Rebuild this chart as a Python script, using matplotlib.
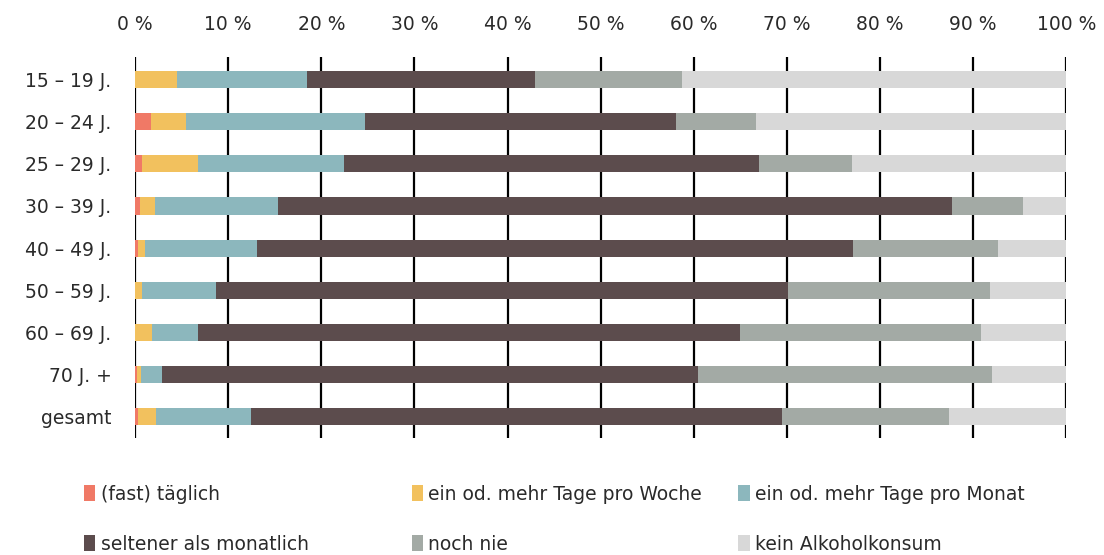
import matplotlib.pyplot as plt
import numpy as np

plt.rcParams['font.family'] = ['DejaVu Sans']

# age groups (top to bottom)
groups = ['15 – 19 J.', '20 – 24 J.', '25 – 29 J.', '30 – 39 J.', '40 – 49 J.',
          '50 – 59 J.', '60 – 69 J.', '70 J. +', 'gesamt']

# shares in percent, one list per answer
taeglich = [0.0, 1.7, 0.8, 0.5, 0.3, 0.0, 0.0, 0.2, 0.3]
woche = [4.5, 3.8, 6.0, 1.65, 0.8, 0.8, 1.8, 0.4, 2.0]
monat = [14.0, 19.2, 15.6, 13.25, 12.0, 7.9, 5.0, 2.3, 10.1]
seltener = [24.4, 33.4, 44.6, 72.3, 64.0, 61.4, 58.2, 57.5, 57.1]
noch_nie = [15.8, 8.6, 10.0, 7.6, 15.6, 21.7, 25.8, 31.6, 17.9]
kein = [41.3, 33.3, 23.0, 4.7, 7.3, 8.2, 9.2, 8.0, 12.6]

labels = ['(fast) täglich', 'ein od. mehr Tage pro Woche', 'ein od. mehr Tage pro Monat',
          'seltener als monatlich', 'noch nie', 'kein Alkoholkonsum']
colors = ['#F07966', '#F2C15E', '#8CB7BD', '#5C4C4D', '#A3AAA5', '#D8D8D8']
series = [taeglich, woche, monat, seltener, noch_nie, kein]

fig = plt.figure(figsize=(11.04, 5.55), dpi=100)
ax = fig.add_axes([0.1223, 0.211, 0.8436, 0.686])

y = np.arange(len(groups))
left = np.zeros(len(groups))
bars = []
for vals, col, lab in zip(series, colors, labels):
    b = ax.barh(y, vals, left=left, height=0.41, color=col, label=lab, zorder=3)
    bars.append(b)
    left += np.array(vals)

for v in range(0, 101, 10):
    ax.axvline(v, color='black', lw=1.6, zorder=2)

ax.set_xlim(0, 100)
ax.set_ylim(8.5, -0.53)
ax.set_xticks(range(0, 101, 10))
ax.set_xticklabels([f'{v} %' for v in range(0, 101, 10)])
ax.xaxis.tick_top()
ax.set_yticks(y)
ax.set_yticklabels(groups)
ax.tick_params(axis='x', length=0, pad=16.5, labelsize=13.5, colors='#2a2a2a')
ax.tick_params(axis='y', length=0, pad=17, labelsize=13.5, colors='#2a2a2a')
for s in ax.spines.values():
    s.set_visible(False)

# legend in three fixed columns
xs = [0.069, 0.366, 0.662]
for i, x in enumerate(xs):
    fig.legend([bars[i], bars[i + 3]], [labels[i], labels[i + 3]],
               loc='upper left', bbox_to_anchor=(x, 0.14), frameon=False,
               fontsize=13.5, handlelength=0.6, handleheight=0.95,
               handletextpad=0.3, labelspacing=1.65, borderaxespad=0,
               labelcolor='#2a2a2a')

fig.savefig('out.png', dpi=100)
